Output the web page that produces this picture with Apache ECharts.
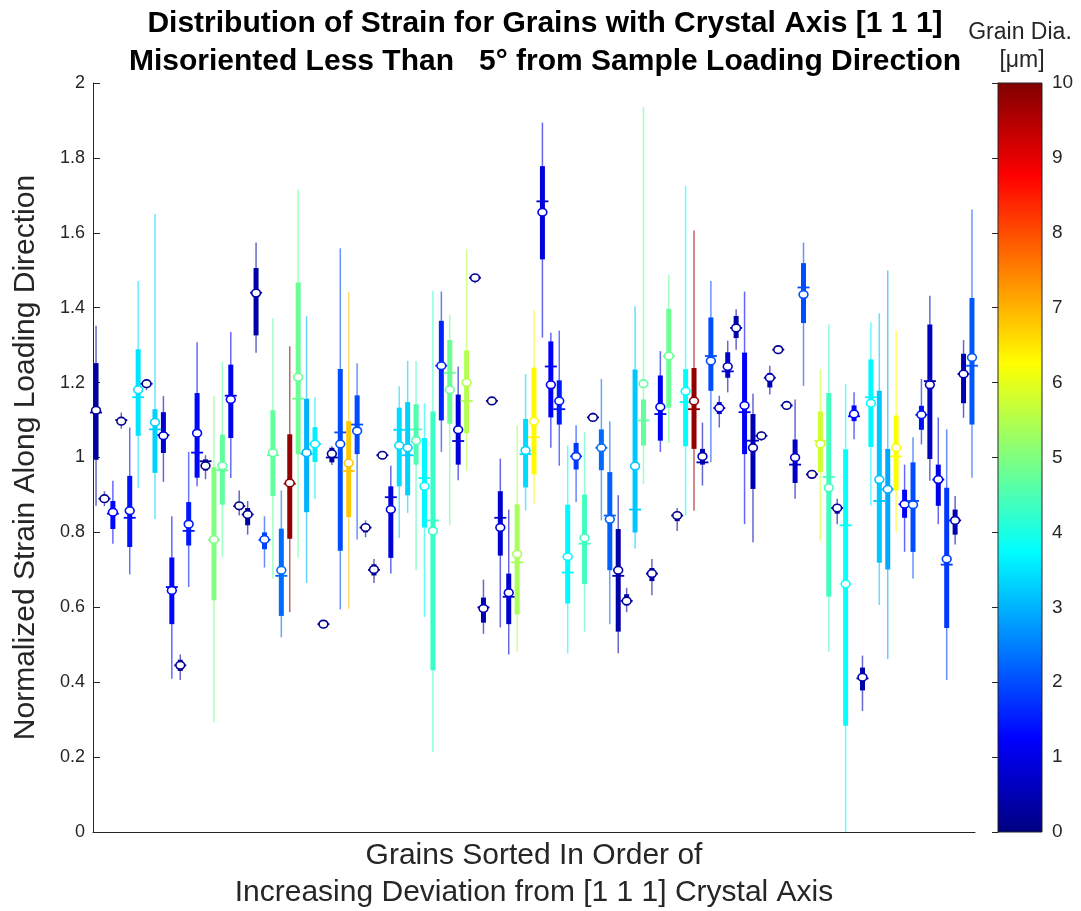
<!DOCTYPE html>
<html><head><meta charset="utf-8">
<script src="https://cdn.jsdelivr.net/npm/echarts@6/dist/echarts.min.js"></script>
<style>html,body{margin:0;padding:0;background:#fff}#c{width:1081px;height:911px}</style>
</head><body><div id="c"></div>
<script>
// Per-grain statistics (grains sorted by increasing deviation from [1 1 1])
const whiskerLow = [0.871,0.87,0.770,1.077,0.688,0.919,1.18,0.836,0.935,0.409,0.406,0.654,0.923,0.942,0.293,0.735,0.945,0.845,0.794,1.280,0.706,0.677,0.520,0.587,0.732,0.665,0.889,0.545,0.98,0.594,0.596,0.781,0.787,0.665,0.995,0.690,0.785,0.852,0.699,0.574,0.213,1.015,0.819,0.939,0.964,1.465,0.529,1.14,0.546,0.474,0.481,0.858,0.877,1.320,1.026,0.978,0.477,0.881,0.535,1.095,0.832,0.555,0.477,0.587,0.757,0.929,0.632,1.015,1.039,0.804,0.845,0.858,0.925,0.987,1.080,1.174,1.288,0.822,0.774,1.045,1.168,1.278,1.13,0.890,1.191,0.945,0.778,0.481,0.822,0.0,1.049,0.323,0.871,0.606,0.462,0.800,0.748,0.677,1.035,0.938,0.822,0.406,0.768,1.106,0.946];
const quart1 = [0.994,0.88,0.809,1.09,0.761,1.058,1.19,0.959,1.012,0.555,0.43,0.765,0.946,0.965,0.619,0.874,1.052,0.86,0.819,1.326,0.755,0.897,0.577,0.783,1.009,0.854,0.988,0.55,0.987,0.751,0.841,1.009,0.80,0.685,1.0,0.732,0.923,0.899,0.981,0.813,0.432,1.099,1.090,0.981,1.065,1.472,0.559,1.145,0.738,0.555,0.581,0.920,0.955,1.529,1.107,1.088,0.610,0.968,0.662,1.10,0.966,0.699,0.535,0.605,0.800,1.032,0.67,1.045,1.133,0.83,1.030,1.023,0.981,1.178,1.116,1.213,1.319,1.009,0.916,1.052,1.187,1.283,1.135,0.932,1.359,0.95,0.961,0.628,0.85,0.284,1.097,0.378,1.028,0.719,0.701,0.912,0.839,0.748,1.074,0.996,0.871,0.545,0.794,1.145,1.088];
const medians = [1.12,0.89,0.85,1.10,0.839,1.161,1.197,1.075,1.06,0.654,0.445,0.804,1.013,0.99,0.78,0.966,1.165,0.87,0.848,1.44,0.78,1.006,0.684,0.93,1.157,1.01,1.036,0.555,1.0,1.067,0.964,1.088,0.813,0.70,1.006,0.894,1.074,1.006,1.075,0.945,0.832,1.245,1.226,1.044,1.151,1.48,0.60,1.151,0.839,0.628,0.72,1.009,1.054,1.684,1.243,1.129,0.693,1.003,0.770,1.107,1.026,0.845,0.684,0.617,0.861,1.099,0.69,1.116,1.27,0.845,1.148,1.129,0.987,1.271,1.132,1.230,1.346,1.121,1.045,1.058,1.213,1.288,1.139,0.981,1.454,0.955,1.045,0.948,0.865,0.819,1.11,0.41,1.161,0.884,0.915,1.003,0.875,0.884,1.114,1.204,0.941,0.714,0.832,1.223,1.245];
const quart3 = [1.252,0.90,0.884,1.105,0.951,1.289,1.205,1.129,1.121,0.733,0.46,0.881,1.172,0.995,0.974,1.061,1.248,0.88,0.865,1.506,0.800,1.126,0.810,1.062,1.467,1.157,1.081,0.56,1.026,1.236,1.097,1.166,0.82,0.715,1.01,0.923,1.133,1.148,1.142,1.052,1.123,1.365,1.314,1.168,1.286,1.485,0.626,1.155,0.910,0.690,0.875,1.103,1.240,1.778,1.310,1.206,0.874,1.039,0.901,1.113,1.075,0.961,0.809,0.635,1.235,1.155,0.705,1.219,1.397,0.855,1.236,1.239,1.023,1.374,1.148,1.281,1.378,1.280,1.116,1.064,1.226,1.291,1.143,1.048,1.519,0.96,1.123,1.172,0.875,1.022,1.139,0.439,1.262,1.178,1.023,1.112,0.914,0.987,1.138,1.355,0.981,0.919,0.861,1.277,1.426];
const whiskerHigh = [1.352,0.91,0.938,1.12,1.08,1.471,1.21,1.650,1.164,0.843,0.474,1.015,1.308,1.006,1.164,1.255,1.335,0.912,0.884,1.574,0.843,1.372,0.912,1.297,1.716,1.377,1.161,0.565,1.03,1.559,1.441,1.252,0.832,0.729,1.015,0.978,1.190,1.258,1.258,1.145,1.445,1.443,1.381,1.243,1.557,1.49,0.674,1.16,0.997,0.861,1.086,1.223,1.394,1.894,1.333,1.339,1.032,1.086,1.067,1.12,1.210,1.097,0.899,0.652,1.404,1.935,0.729,1.284,1.488,0.865,1.725,1.606,1.093,1.471,1.165,1.312,1.396,1.443,1.170,1.07,1.245,1.295,1.148,1.155,1.574,0.963,1.236,1.355,0.890,1.196,1.174,0.471,1.361,1.385,1.499,1.339,0.981,1.054,1.210,1.432,1.107,1.075,0.897,1.314,1.662];
const means = [1.126,0.89,0.854,1.097,0.858,1.181,1.197,1.094,1.058,0.645,0.445,0.822,1.065,0.978,0.781,0.978,1.155,0.871,0.848,1.439,0.781,1.013,0.699,0.932,1.214,1.013,1.036,0.555,1.01,1.036,0.985,1.071,0.813,0.701,1.006,0.861,1.032,1.026,1.045,0.923,0.804,1.245,1.181,1.074,1.2,1.48,0.597,1.151,0.813,0.639,0.742,1.019,1.097,1.655,1.194,1.151,0.735,1.003,0.785,1.107,1.026,0.835,0.699,0.617,0.977,1.197,0.690,1.135,1.271,0.845,1.177,1.151,1.003,1.258,1.132,1.243,1.346,1.139,1.026,1.058,1.213,1.288,1.139,1.0,1.435,0.955,1.036,0.919,0.865,0.662,1.116,0.413,1.145,0.941,0.915,1.026,0.875,0.874,1.114,1.194,0.941,0.729,0.832,1.223,1.267];
const grainDia = [0.3,0.2,1.3,0.2,1.4,3.5,0.2,3.3,0.8,1.3,0.2,1.5,1.3,0.2,5.0,4.7,1.1,0.2,0.3,0.4,1.9,4.7,2.3,9.8,4.8,3.0,3.6,0.2,0.3,2.0,6.8,2.0,0.3,0.2,0.2,0.9,3.4,3.3,4.5,3.7,4.3,1.6,4.8,0.9,5.5,0.2,0.5,0.2,0.8,0.8,5.4,3.4,6.3,0.9,1.2,1.5,3.7,1.8,4.4,0.2,2.3,2.2,0.4,0.3,3.2,4.7,0.4,1.1,4.8,0.2,3.75,9.8,0.5,2.0,0.8,0.7,0.4,1.2,0.5,0.2,0.5,0.2,0.2,0.7,2.0,0.2,5.8,4.4,0.3,3.8,1.3,0.4,3.7,3.2,2.9,6.2,1.2,2.0,1.4,0.6,1.0,1.8,0.5,0.5,2.1];
const yTicks = [0,0.2,0.4,0.6,0.8,1,1.2,1.4,1.6,1.8,2];
const cbarTicks = [0,1,2,3,4,5,6,7,8,9,10];

function clamp(v){return Math.max(0,Math.min(1,v));}
function jet(t){
  t = clamp(t);
  const r = clamp(Math.min(4*t-1.5, -4*t+4.5));
  const g = clamp(Math.min(4*t-0.5, -4*t+3.5));
  const b = clamp(Math.min(4*t+0.5, -4*t+2.5));
  return 'rgb(' + Math.round(r*255) + ',' + Math.round(g*255) + ',' + Math.round(b*255) + ')';
}
const data = whiskerLow.map((_, i) => [i+1, whiskerLow[i], quart1[i], medians[i], quart3[i], whiskerHigh[i], means[i], grainDia[i]]);

const FONT = '"Liberation Sans", Arial, Helvetica, sans-serif';
const TXT = '#262626';
const chart = echarts.init(document.getElementById('c'), null, {renderer:'canvas'});

const stops = [];
for (let k = 0; k <= 40; k++) { stops.push({offset: k/40, color: jet(1 - k/40)}); }

chart.setOption({
  animation: false,
  backgroundColor: '#fff',
  title: {
    text: 'Distribution of Strain for Grains with Crystal Axis [1 1 1]\nMisoriented Less Than   5° from Sample Loading Direction',
    left: 540, top: 0, textAlign: 'center',
    textStyle: {fontFamily: FONT, fontWeight: 'bold', fontSize: 30, lineHeight: 38, color: '#000'}
  },
  graphic: [
    {type:'text', x: 1020, y: 33, style:{text:'Grain Dia.', font: '23px ' + FONT, fill: TXT, align:'center', verticalAlign:'middle'}},
    {type:'text', x: 1022, y: 61, style:{text:'[μm]', font: '23px ' + FONT, fill: TXT, align:'center', verticalAlign:'middle'}}
  ],
  grid: [
    {left: 93, right: 106, top: 83, bottom: 79, containLabel:false, outerBoundsMode:'none'},
    {left: 998, width: 44, top: 83, bottom: 79, containLabel:false, outerBoundsMode:'none'}
  ],
  xAxis: [
    {type:'value', gridIndex:0, min:0.64, max:105.36, axisLabel:{show:false}, axisTick:{show:false}, splitLine:{show:false},
     axisLine:{show:true, onZero:false, lineStyle:{color:TXT, width:1}},
     name:'Grains Sorted In Order of\nIncreasing Deviation from [1 1 1] Crystal Axis', nameLocation:'middle', nameGap:5,
     nameTextStyle:{fontFamily:FONT, fontSize:30, lineHeight:37, color:TXT}},
    {type:'value', gridIndex:1, min:0, max:1, show:false}
  ],
  yAxis: [
    {type:'value', gridIndex:0, min:0, max:2, interval:0.2, splitLine:{show:false},
     axisLine:{show:true, lineStyle:{color:TXT, width:1}},
     axisTick:{show:true, inside:true, length:7, lineStyle:{color:TXT}},
     axisLabel:{fontFamily:FONT, fontSize:18, color:TXT, margin:8, formatter: v => String(parseFloat(v.toFixed(1)))},
     name:'Normalized Strain Along Loading Direction', nameLocation:'middle', nameGap:52, nameRotate:90,
     nameTextStyle:{fontFamily:FONT, fontSize:30, color:TXT}},
    {type:'value', gridIndex:1, position:'right', min:0, max:10, interval:1, splitLine:{show:false},
     axisLine:{show:true, lineStyle:{color:TXT, width:1}},
     axisTick:{show:true, inside:true, length:6, lineStyle:{color:TXT}},
     axisLabel:{fontFamily:FONT, fontSize:19, color:TXT, margin:10}}
  ],
  series: [
    {
      type:'custom', xAxisIndex:0, yAxisIndex:0, clip:false,
      encode:{x:0, y:[1,5]},
      data: data,
      renderItem: function(params, api){
        const x = api.value(0);
        const c = jet(api.value(7)/10);
        const pLo = api.coord([x, api.value(1)]);
        const pQ1 = api.coord([x, api.value(2)]);
        const pMed = api.coord([x, api.value(3)]);
        const pQ3 = api.coord([x, api.value(4)]);
        const pHi = api.coord([x, api.value(5)]);
        const pMean = api.coord([x, api.value(6)]);
        return {type:'group', children:[
          {type:'line', shape:{x1:pLo[0], y1:pLo[1], x2:pHi[0], y2:pHi[1]}, style:{stroke:c, lineWidth:1.5, opacity:0.6}},
          {type:'line', shape:{x1:pQ1[0], y1:pQ1[1], x2:pQ3[0], y2:pQ3[1]}, style:{stroke:c, lineWidth:5}},
          {type:'line', shape:{x1:pMed[0]-6, y1:pMed[1], x2:pMed[0]+6, y2:pMed[1]}, style:{stroke:c, lineWidth:1.8}},
          {type:'ellipse', shape:{cx:pMean[0], cy:pMean[1], rx:4.4, ry:3.8}, style:{fill:'#fff', stroke:c, lineWidth:1.6}}
        ]};
      }
    },
    {
      type:'custom', xAxisIndex:1, yAxisIndex:1,
      data:[[0,0,1,10]],
      renderItem: function(params, api){
        const a = api.coord([api.value(0), api.value(3)]);
        const b = api.coord([api.value(2), api.value(1)]);
        return {type:'rect', shape:{x:a[0], y:a[1], width:b[0]-a[0], height:b[1]-a[1]},
          style:{fill:new echarts.graphic.LinearGradient(0,0,0,1,stops), stroke:TXT, lineWidth:1}};
      }
    }
  ]
});
</script>
</body></html>
